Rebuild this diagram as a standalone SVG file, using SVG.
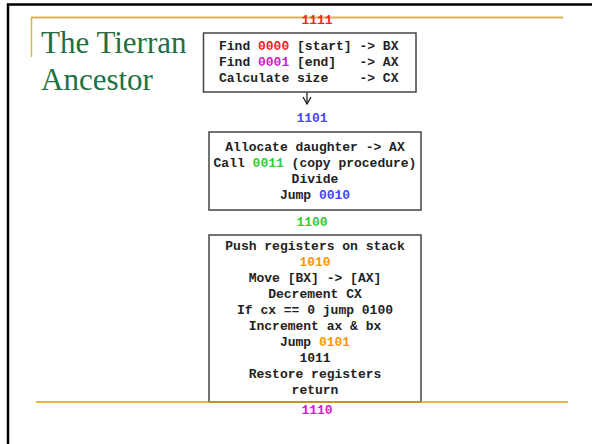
<svg xmlns="http://www.w3.org/2000/svg" width="592" height="444" viewBox="0 0 592 444">
<style>
.code{font-family:"Liberation Mono","Courier New",monospace;font-size:13px;font-weight:bold;fill:#222;white-space:pre}
.mid{text-anchor:middle}
.box{fill:#fff;stroke:#444;stroke-width:1.5}
.title{font-family:"Liberation Serif","Times New Roman",serif;font-size:31px;fill:#1E7045}
.r{fill:#FF2020}.m{fill:#CC22CC}.g{fill:#33CC33}.b{fill:#4444FF}.o{fill:#FF9900}
</style>
<defs>
<marker id="arr" viewBox="0 0 10 10" refX="9" refY="5" markerWidth="10" markerHeight="10" markerUnits="userSpaceOnUse" orient="auto">
<path d="M2,1 L9,5 L2,9" fill="none" stroke="#111" stroke-width="1.2"/>
</marker>
</defs>
<rect width="592" height="444" fill="#fff"/>
<g id="frame">
<rect x="8" y="4.5" width="620" height="470" fill="none" stroke="#000" stroke-width="2.5"/>
<line x1="31" y1="17.5" x2="563" y2="17.5" stroke="#D4B45A" stroke-width="1.8"/>
<line x1="31.5" y1="17" x2="31.5" y2="57" stroke="#D4B45A" stroke-width="1.5"/>
</g>
<g id="title">
<text class="title" x="41" y="53">The Tierran</text>
<text class="title" x="41" y="90">Ancestor</text>
</g>
<g id="connectors">
<line x1="307" y1="92" x2="307" y2="104" stroke="#111" stroke-width="1.2" marker-end="url(#arr)"/>
</g>
<g id="label1111"><text class="code mid r" x="317" y="24">1111</text></g>
<g id="node1">
<rect class="box" x="203.5" y="33" width="212.5" height="59"/>
<text class="code" x="219" y="50" xml:space="preserve">Find <tspan class="r">0000</tspan> [start] -&gt; BX</text>
<text class="code" x="219" y="66" xml:space="preserve">Find <tspan class="m">0001</tspan> [end]   -&gt; AX</text>
<text class="code" x="219" y="82" xml:space="preserve">Calculate size    -&gt; CX</text>
</g>
<g id="label1101"><text class="code mid b" x="312" y="122">1101</text></g>
<g id="node2">
<rect class="box" x="209" y="132" width="212" height="78"/>
<text class="code mid" x="315" y="151">Allocate daughter -&gt; AX</text>
<text class="code mid" x="315" y="167">Call <tspan class="g">0011</tspan> (copy procedure)</text>
<text class="code mid" x="315" y="183">Divide</text>
<text class="code mid" x="315" y="199">Jump <tspan class="b">0010</tspan></text>
</g>
<g id="label1100"><text class="code mid g" x="312" y="226">1100</text></g>
<g id="node3">
<rect class="box" x="209" y="235" width="212" height="167"/>
<text class="code mid" x="315" y="250">Push registers on stack</text>
<text class="code mid o" x="315" y="266">1010</text>
<text class="code mid" x="315" y="282">Move [BX] -&gt; [AX]</text>
<text class="code mid" x="315" y="298">Decrement CX</text>
<text class="code mid" x="315" y="314">If cx == 0 jump 0100</text>
<text class="code mid" x="315" y="330">Increment ax &amp; bx</text>
<text class="code mid" x="315" y="346">Jump <tspan class="o">0101</tspan></text>
<text class="code mid" x="315" y="362">1011</text>
<text class="code mid" x="315" y="378">Restore registers</text>
<text class="code mid" x="315" y="394">return</text>
</g>
<g id="bottomline">
<line x1="36" y1="402" x2="568" y2="402" stroke="#DAA200" stroke-width="1.5"/>
</g>
<g id="label1110"><text class="code mid m" x="317" y="414">1110</text></g>
</svg>
